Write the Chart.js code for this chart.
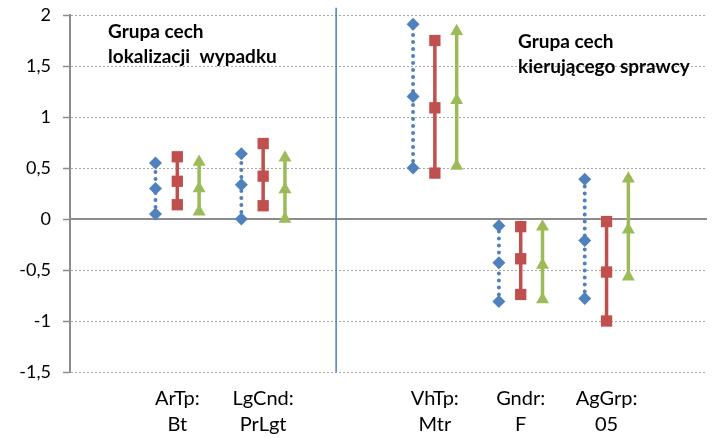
<!DOCTYPE html>
<html>
<head>
<meta charset="utf-8">
<script src="https://cdn.jsdelivr.net/npm/chart.js"></script>
<style>
  html, body { margin: 0; padding: 0; background: #fff; }
</style>
</head>
<body>
<canvas id="ciChart" width="715" height="438"></canvas>

<script>
    // categories (two-line labels) and their slot on the x axis (slot 3 is the gap)
    const categories = [['ArTp:', 'Bt'], ['LgCnd:', 'PrLgt'], ['VhTp:', 'Mtr'], ['Gndr:', 'F'], ['AgGrp:', '05']];
    const slots = [1, 2, 4, 5, 6];

    // three estimates per category: low / mid / high
    const blueLow   = [0.05, 0.0, 0.5, -0.81, -0.78];
    const blueMid   = [0.30, 0.335, 1.2, -0.43, -0.21];
    const blueHigh  = [0.55, 0.64, 1.91, -0.065, 0.39];
    const redLow    = [0.14, 0.13, 0.45, -0.74, -1.0];
    const redMid    = [0.37, 0.42, 1.09, -0.39, -0.52];
    const redHigh   = [0.61, 0.74, 1.75, -0.075, -0.025];
    const greenLow  = [0.07, 0.0, 0.52, -0.79, -0.565];
    const greenMid  = [0.30, 0.29, 1.165, -0.45, -0.105];
    const greenHigh = [0.56, 0.60, 1.84, -0.075, 0.395];

    const yTicks = [-1.5, -1, -0.5, 0, 0.5, 1, 1.5, 2];

    const FONT = 'Lato';

    // build one broken line per series: 3 points per category then a gap
    function ranges(low, mid, high, shift) {
        const pts = [];
        slots.forEach((s, i) => {
            pts.push({x: s + shift, y: low[i]}, {x: s + shift, y: mid[i]}, {x: s + shift, y: high[i]});
            pts.push({x: s + shift, y: null});
        });
        return pts;
    }

    const overlay = {
        id: 'overlay',
        beforeDatasetsDraw(chart) {
            const {ctx, chartArea, scales: {y}} = chart;
            const y0 = y.getPixelForValue(0);
            ctx.save();
            ctx.strokeStyle = '#8c8c8c';
            ctx.lineWidth = 2;
            ctx.beginPath();
            ctx.moveTo(chartArea.left, y0);
            ctx.lineTo(chartArea.right, y0);
            ctx.stroke();
            ctx.restore();
        },
        afterDraw(chart) {
            const ctx = chart.ctx;
            ctx.save();
            ctx.fillStyle = '#000';
            ctx.font = 'bold 19px ' + FONT;
            ctx.textBaseline = 'middle';
            ctx.fillText('Grupa cech', 108, 32);
            ctx.fillText('lokalizacji  wypadku', 108, 57);
            ctx.fillText('Grupa cech', 518, 42);
            ctx.fillText('kierującego sprawcy', 518, 67);
            ctx.restore();
        }
    };

    const ctx = document.getElementById('ciChart').getContext('2d');
    const ciChart = new Chart(ctx, {
        type: 'scatter',
        data: {
            datasets: [
                {
                    // divider between the two groups of features
                    data: [{x: 2.85, y: -1.5}, {x: 2.85, y: 2.07}],
                    showLine: true,
                    borderColor: '#4a7ebb',
                    borderWidth: 1.5,
                    pointRadius: 0,
                    clip: false
                },
                {
                    data: ranges(blueLow, blueMid, blueHigh, -0.254),
                    showLine: true,
                    spanGaps: false,
                    borderColor: '#4f81bd',
                    borderWidth: 4,
                    borderDash: [0, 7],
                    borderCapStyle: 'round',
                    pointStyle: 'rectRot',
                    pointRadius: 6.5,
                    pointBackgroundColor: '#4f81bd',
                    pointBorderWidth: 0
                },
                {
                    data: ranges(redLow, redMid, redHigh, 0),
                    showLine: true,
                    spanGaps: false,
                    borderColor: '#c0504d',
                    borderWidth: 3.5,
                    pointStyle: 'rect',
                    pointRadius: 8,
                    pointBackgroundColor: '#c0504d',
                    pointBorderWidth: 0
                },
                {
                    data: ranges(greenLow, greenMid, greenHigh, 0.254),
                    showLine: true,
                    spanGaps: false,
                    borderColor: '#9bbb59',
                    borderWidth: 3.5,
                    pointStyle: 'triangle',
                    pointRadius: 7.5,
                    pointBackgroundColor: '#9bbb59',
                    pointBorderWidth: 0
                }
            ]
        },
        options: {
            responsive: false,
            animation: false,
            layout: {padding: {top: 15, right: 2, left: 0, bottom: 0}},
            plugins: {legend: {display: false}, tooltip: {enabled: false}},
            scales: {
                x: {
                    type: 'linear',
                    min: -0.25,
                    max: 7.17,
                    afterBuildTicks: s => { s.ticks = slots.map(v => ({value: v})); },
                    afterFit: s => { s.height = 66; s.paddingLeft = 0; s.paddingRight = 0; },
                    grid: {display: false, drawTicks: false},
                    border: {display: false},
                    ticks: {
                        callback: v => categories[slots.indexOf(v)],
                        autoSkip: false,
                        maxRotation: 0,
                        padding: 14,
                        color: '#000',
                        font: {family: FONT, size: 20, lineHeight: 1.3}
                    }
                },
                y: {
                    min: -1.5,
                    max: 2,
                    afterBuildTicks: s => { s.ticks = yTicks.map(v => ({value: v})); },
                    afterFit: s => { s.width = 70; s.paddingTop = 0; s.paddingBottom = 0; },
                    grid: {
                        color: c => c.tick && c.tick.value === 0 ? 'rgba(0,0,0,0)' : '#a6a6a6',
                        lineWidth: 1,
                        tickLength: 7,
                        tickColor: '#8c8c8c',
                        tickWidth: 1.5,
                        tickBorderDash: []
                    },
                    border: {display: true, color: '#8c8c8c', width: 2, dash: [2, 2]},
                    ticks: {
                        callback: v => String(v).replace('.', ','),
                        padding: 12,
                        color: '#000',
                        font: {family: FONT, size: 18}
                    }
                }
            }
        },
        plugins: [overlay]
    });
</script>
</body>
</html>
